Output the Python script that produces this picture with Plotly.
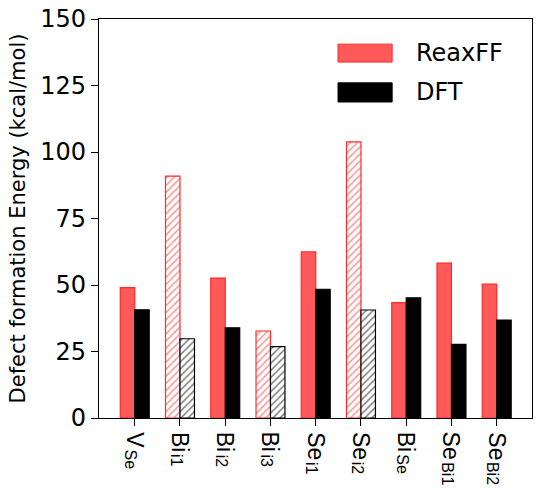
import plotly.graph_objects as go

label_main = ["V", "Bi", "Bi", "Bi", "Se", "Se", "Bi", "Se", "Se"]
label_sub = ["Se", "i1", "i2", "i3", "i1", "i2", "Se", "Bi1", "Bi2"]
reaxff = [49.0, 90.9, 52.6, 32.7, 62.5, 103.8, 43.4, 58.2, 50.3]
dft = [40.7, 29.8, 33.9, 26.8, 48.4, 40.6, 45.2, 27.7, 36.8]
hatched = [False, True, False, True, False, True, False, False, False]
yticks = [0, 25, 50, 75, 100, 125, 150]

RED_FILL = "#ff5959"
RED_EDGE = "#ff2a2a"

x = list(range(len(label_main)))

# approximate Liberation Sans advance widths (em units) for label layout
ADV = {"V": 0.667, "B": 0.667, "S": 0.667, "e": 0.556, "i": 0.222,
       "1": 0.556, "2": 0.556, "3": 0.556}
MAIN_SIZE = 23
SUB_SIZE = 16


def text_len(s, size):
    return sum(ADV[c] for c in s) * size


def split(vals, want_hatched):
    return [v if h == want_hatched else None for v, h in zip(vals, hatched)]


fig = go.Figure()
series = [("ReaxFF", reaxff, RED_FILL, RED_EDGE), ("DFT", dft, "black", "black")]
for name, vals, fill, edge in series:
    fig.add_trace(go.Bar(
        x=x, y=split(vals, False), name=name, showlegend=False, offsetgroup=name,
        marker=dict(color=fill, line=dict(color=edge, width=1.2)),
    ))
    fig.add_trace(go.Bar(
        x=x, y=split(vals, True), name=name, showlegend=False, offsetgroup=name,
        marker=dict(color="white", line=dict(color=edge, width=1.2),
                    pattern=dict(shape="/", fgcolor=edge, bgcolor="white",
                                 size=5, solidity=0.3)),
    ))

# custom legend (patch + label)
legend_items = [("ReaxFF", RED_FILL, RED_EDGE, 0.892, 0.937),
                ("DFT", "black", "black", 0.792, 0.840)]
for label, fill, edge, y0, y1 in legend_items:
    fig.add_shape(type="rect", xref="paper", yref="paper",
                  x0=0.552, x1=0.677, y0=y0, y1=y1,
                  fillcolor=fill, line=dict(color=edge, width=1))
    fig.add_annotation(xref="paper", yref="paper", x=0.7275, y=(y0 + y1) / 2,
                       text=label, showarrow=False, xanchor="left", yanchor="middle",
                       font=dict(family="DejaVu Sans", size=24, color="black"))

# rotated category labels: main symbol + subscript
for xi, m, s in zip(x, label_main, label_sub):
    fig.add_annotation(xref="x", yref="paper", x=xi, y=0, yshift=-13,
                       text=m, textangle=90, showarrow=False,
                       xanchor="center", yanchor="top", borderpad=0,
                       font=dict(family="Liberation Sans", size=MAIN_SIZE, color="black"))
    fig.add_annotation(xref="x", yref="paper", x=xi, y=0,
                       yshift=-13 - text_len(m, MAIN_SIZE) - 2, xshift=-4,
                       text=s, textangle=90, showarrow=False,
                       xanchor="center", yanchor="top", borderpad=0,
                       font=dict(family="Liberation Sans", size=SUB_SIZE, color="black"))

fig.update_layout(
    width=538, height=500,
    margin=dict(l=99, r=6, t=19, b=82),
    plot_bgcolor="white", paper_bgcolor="white",
    barmode="group", bargap=0.36, bargroupgap=0,
    font=dict(family="DejaVu Sans", color="black"),
    xaxis=dict(
        tickmode="array", tickvals=x, showticklabels=False,
        range=[-0.79, 8.78],
        showline=True, linecolor="black", linewidth=1.3, mirror=True,
        ticks="outside", ticklen=7, tickwidth=1.2, tickcolor="black",
        showgrid=False, zeroline=False,
    ),
    yaxis=dict(
        range=[0, 150], tickmode="array", tickvals=yticks,
        tickfont=dict(family="DejaVu Sans", size=24, color="black"),
        title=dict(text="Defect formation Energy (kcal/mol)",
                   font=dict(family="DejaVu Sans", size=21, color="black"), standoff=8),
        showline=True, linecolor="black", linewidth=1.3, mirror=True,
        ticks="outside", ticklen=7, tickwidth=1.2, tickcolor="black",
        showgrid=False, zeroline=False,
    ),
)

fig.write_html("out.html")
